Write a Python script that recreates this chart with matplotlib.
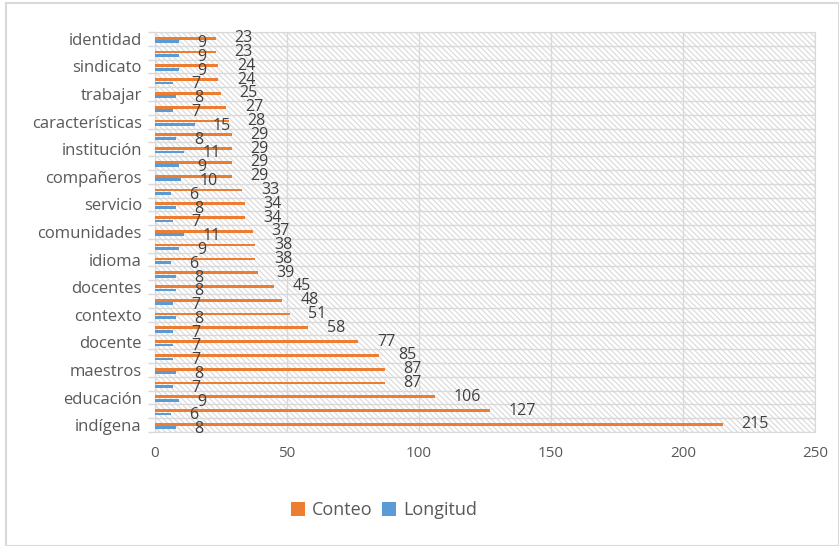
import numpy as np
import matplotlib
matplotlib.use("Agg")
import matplotlib.pyplot as plt
from matplotlib.patches import Rectangle

plt.rcParams['font.family'] = ['Open Sans', 'DejaVu Sans']
plt.rcParams['hatch.color'] = '#d9d9d9'
plt.rcParams['hatch.linewidth'] = 0.8

# categories from bottom to top (only every other label is shown in the chart)
palabras = ["indígena", "", "educación", "", "maestros", "", "docente", "",
            "contexto", "", "docentes", "", "idioma", "", "comunidades", "",
            "servicio", "", "compañeros", "", "institución", "", "características", "",
            "trabajar", "", "sindicato", "", "identidad"]
conteo = [215, 127, 106, 87, 87, 85, 77, 58, 51, 48, 45, 39, 38, 38, 37,
          34, 34, 33, 29, 29, 29, 29, 28, 27, 25, 24, 24, 23, 23]
longitud = [8, 6, 9, 7, 8, 7, 7, 7, 8, 7, 8, 8, 6, 9, 11,
            7, 8, 6, 10, 9, 11, 8, 15, 7, 8, 7, 9, 9, 9]

naranja = '#ed7d31'
azul = '#5b9bd5'
gris = '#d9d9d9'
texto = '#595959'

fig = plt.figure(figsize=(8.39, 5.46), dpi=100)
fig.patches.append(Rectangle((6/839, 0), 1 - 6/839, 1 - 3/546, transform=fig.transFigure,
                             fill=False, edgecolor=gris, linewidth=1.5))
ax = fig.add_axes([155/839, 1 - 432/546, (815 - 155)/839, (432 - 32)/546])

n = len(conteo)
y = np.arange(n)
h = 0.2
ax.add_patch(Rectangle((0, -0.5), 250, n, facecolor='white', edgecolor=gris,
                       hatch='\\\\\\\\\\\\', linewidth=0, zorder=0))
ax.barh(y + 0.05, conteo, height=h, color=naranja, zorder=3, label='Conteo')
ax.barh(y - 0.2, longitud, height=h, color=azul, zorder=3, label='Longitud')

for i in range(n):
    ax.annotate(str(conteo[i]), (conteo[i], y[i] + 0.05), xytext=(13.5, 0),
                textcoords='offset points', ha='left', va='center',
                fontsize=11.5, color='#404040', zorder=4)
    ax.annotate(str(longitud[i]), (longitud[i], y[i] - 0.2), xytext=(13, -1),
                textcoords='offset points', ha='left', va='center',
                fontsize=11.5, color='#404040', zorder=4)

ax.set_xlim(0, 250)
ax.set_ylim(-0.5, n - 0.5)
ax.set_xticks(np.arange(0, 251, 50))
ax.set_yticks(y[::2])
ax.set_yticklabels([palabras[i] for i in y[::2]])
ax.set_yticks(np.arange(-0.5, n, 1), minor=True)
ax.tick_params(axis='y', which='major', length=0, pad=9.5, labelsize=12, labelcolor=texto)
ax.tick_params(axis='y', which='minor', length=5, color=gris, width=1)
ax.tick_params(axis='x', length=0, pad=10, labelsize=11, labelcolor=texto)
ax.grid(axis='x', color=gris, linewidth=1, zorder=1)
ax.grid(axis='y', which='minor', color=gris, linewidth=1, zorder=1)
ax.set_axisbelow(True)
for s in ax.spines.values():
    s.set_color(gris)

fig.legend(loc='center', bbox_to_anchor=(384/839, 1 - 510/546), ncol=2, frameon=False,
           fontsize=13, handlelength=0.8, handleheight=0.8, handletextpad=0.4,
           columnspacing=0.5, labelcolor=texto)

fig.savefig('out.png', dpi=100)
